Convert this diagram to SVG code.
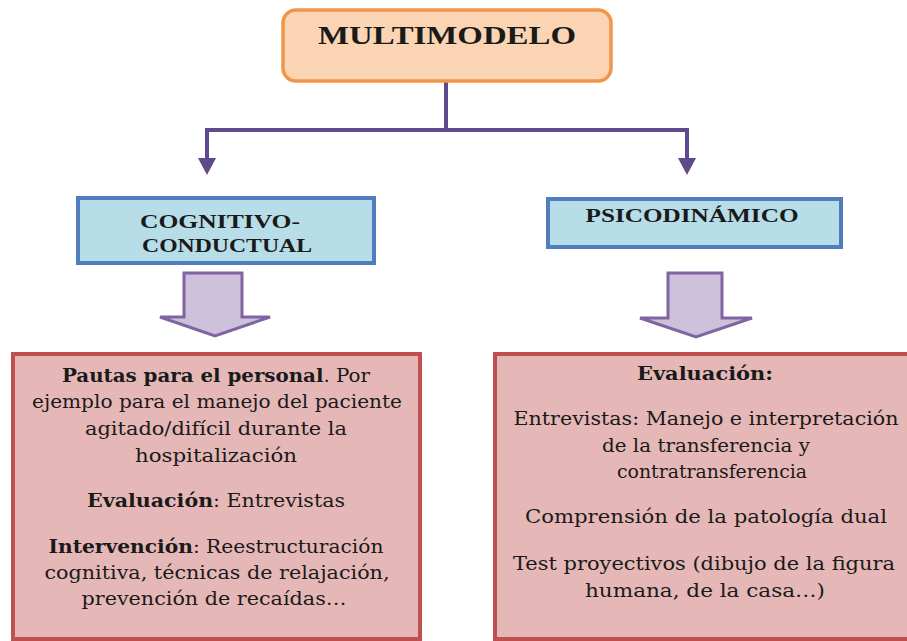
<svg xmlns="http://www.w3.org/2000/svg" width="907" height="641" viewBox="0 0 907 641">
<style>
.title{font-family:"Liberation Serif","Times New Roman",serif;font-weight:bold;fill:#1a1a1a;text-anchor:middle}
.body{font-family:"DejaVu Serif","Liberation Serif",serif;font-size:18px;fill:#1a1a1a;text-anchor:middle}
.b{font-weight:bold}
.conn{stroke:#5E4A8A;stroke-width:4;fill:none}
.blue{fill:#B7DDE8;stroke:#4F7DBE;stroke-width:4}
.pink{fill:#E5B8B7;stroke:#C0504D;stroke-width:4}
.barrow{fill:#CCC0DA;stroke:#8064A2;stroke-width:3;stroke-linejoin:miter}
</style>
<defs>
<marker id="ah" markerUnits="userSpaceOnUse" markerWidth="20" markerHeight="18" refX="2" refY="9" orient="auto">
<path d="M0,0 L17,9 L0,18 Z" fill="#5E4A8A"/>
</marker>
</defs>
<rect width="907" height="641" fill="#ffffff"/>

<g id="connectors">
<path class="conn" d="M446,82 V130"/>
<path class="conn" d="M205,130 H689"/>
<path class="conn" d="M207,128 V160" marker-end="url(#ah)"/>
<path class="conn" d="M687,128 V160" marker-end="url(#ah)"/>
<polygon class="barrow" points="184,273 242,273 242,317 270,317 215,336 160,317 184,317"/>
<polygon class="barrow" points="668,273 722,273 722,318 752,318 696,337 640,318 668,318"/>
</g>

<g id="multimodelo">
<rect x="283" y="10" width="328" height="71" rx="13" ry="13" fill="#FBD4B4" stroke="#F0954A" stroke-width="3.5"/>
<text class="title" x="447" y="44" font-size="25" textLength="258" lengthAdjust="spacingAndGlyphs">MULTIMODELO</text>
</g>

<g id="cognitivo">
<rect class="blue" x="78" y="198" width="296" height="65"/>
<text class="title" x="220" y="228" font-size="19" textLength="160" lengthAdjust="spacingAndGlyphs">COGNITIVO-</text>
<text class="title" x="227" y="252" font-size="19" textLength="170" lengthAdjust="spacingAndGlyphs">CONDUCTUAL</text>
</g>

<g id="psicodinamico">
<rect class="blue" x="548" y="199" width="293" height="48"/>
<text class="title" x="692" y="222" font-size="19" textLength="213" lengthAdjust="spacingAndGlyphs">PSICODINÁMICO</text>
</g>

<g id="cc-detalle">
<rect class="pink" x="13" y="354" width="407" height="285"/>
<text class="body" x="216" y="382" textLength="308" lengthAdjust="spacingAndGlyphs"><tspan class="b">Pautas para el personal</tspan>. Por</text>
<text class="body" x="217" y="408" textLength="370" lengthAdjust="spacingAndGlyphs">ejemplo para el manejo del paciente</text>
<text class="body" x="216" y="435" textLength="262" lengthAdjust="spacingAndGlyphs">agitado/difícil durante la</text>
<text class="body" x="216" y="462" textLength="162" lengthAdjust="spacingAndGlyphs">hospitalización</text>
<text class="body" x="216" y="507" textLength="258" lengthAdjust="spacingAndGlyphs"><tspan class="b">Evaluación</tspan>: Entrevistas</text>
<text class="body" x="216" y="553" textLength="335" lengthAdjust="spacingAndGlyphs"><tspan class="b">Intervención</tspan>: Reestructuración</text>
<text class="body" x="217" y="579" textLength="345" lengthAdjust="spacingAndGlyphs">cognitiva, técnicas de relajación,</text>
<text class="body" x="214" y="605" textLength="265" lengthAdjust="spacingAndGlyphs">prevención de recaídas…</text>
</g>

<g id="psico-detalle">
<rect class="pink" x="495" y="354" width="416" height="285"/>
<text class="body b" x="705" y="380" textLength="136" lengthAdjust="spacingAndGlyphs">Evaluación:</text>
<text class="body" x="706" y="425" textLength="385" lengthAdjust="spacingAndGlyphs">Entrevistas: Manejo e interpretación</text>
<text class="body" x="706" y="452" textLength="208" lengthAdjust="spacingAndGlyphs">de la transferencia y</text>
<text class="body" x="712" y="478" textLength="190" lengthAdjust="spacingAndGlyphs">contratransferencia</text>
<text class="body" x="706" y="523" textLength="362" lengthAdjust="spacingAndGlyphs">Comprensión de la patología dual</text>
<text class="body" x="704" y="570" textLength="382" lengthAdjust="spacingAndGlyphs">Test proyectivos (dibujo de la figura</text>
<text class="body" x="705" y="597" textLength="240" lengthAdjust="spacingAndGlyphs">humana, de la casa…)</text>
</g>
</svg>
